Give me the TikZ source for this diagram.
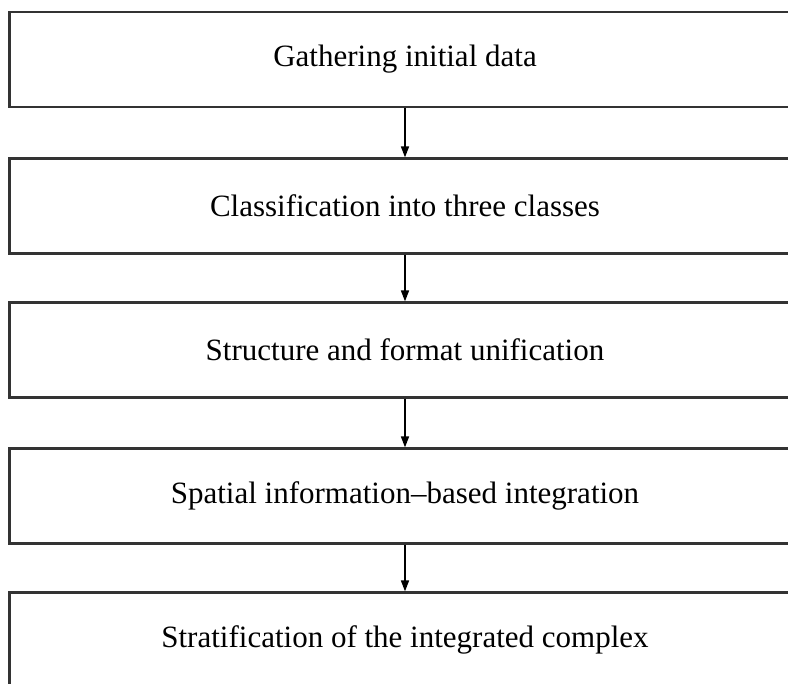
\documentclass[tikz,border=0pt]{standalone}
\usepackage{fontspec}
\setmainfont{Liberation Serif}
\usetikzlibrary{arrows.meta}
\definecolor{linegray}{HTML}{333333}
\begin{document}
\begin{tikzpicture}[x=1pt,y=-1pt,
  stagebox/.style={draw=linegray, line width=2.2pt, minimum width=791pt,
    minimum height=95pt, inner sep=0pt, font=\fontsize{31}{36}\selectfont},
  flowarrow/.style={draw=black, line width=1.6pt,
    -{Triangle[length=11pt,width=8pt]}}]
  \useasboundingbox (0,0) rectangle (788,684);
  \clip (0,0) rectangle (788,684);
  \node[stagebox] (b1) at (405,59.5)  {Gathering initial data};
  \node[stagebox] (b2) at (405,206)   {Classification into three classes};
  \node[stagebox] (b3) at (405,350)   {Structure and format unification};
  \node[stagebox] (b4) at (405,496)   {Spatial information–based integration};
  \node[stagebox] (b5) at (405,640)   {Stratification of the integrated complex};
  \draw[flowarrow] (b1.south) -- (b2.north);
  \draw[flowarrow] (b2.south) -- (b3.north);
  \draw[flowarrow] (b3.south) -- (b4.north);
  \draw[flowarrow] (b4.south) -- (b5.north);
\end{tikzpicture}
\end{document}
